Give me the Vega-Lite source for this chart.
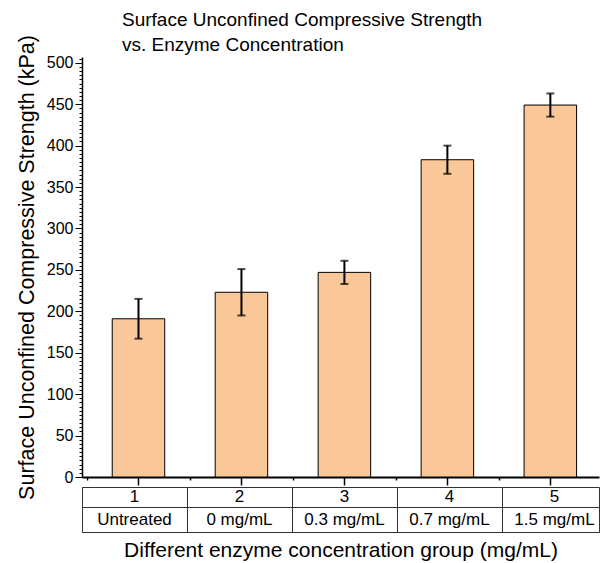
{
  "$schema": "https://vega.github.io/schema/vega-lite/v6.json",
  "padding": {"left": 16, "top": 10, "right": 0, "bottom": 0},
  "background": "white",
  "config": {
    "font": "Liberation Sans",
    "axis": {"labelColor": "black", "titleColor": "black", "domainColor": "black", "tickColor": "black", "titleFontWeight": "normal", "labelFont": "Liberation Sans", "titleFont": "Liberation Sans", "grid": false},
    "title": {"font": "Liberation Sans", "color": "black"}
  },
  "data": {"values": [
    {"group": 1, "label": "Untreated", "value": 191, "err": 24},
    {"group": 2, "label": "0 mg/mL", "value": 223, "err": 28},
    {"group": 3, "label": "0.3 mg/mL", "value": 247, "err": 14},
    {"group": 4, "label": "0.7 mg/mL", "value": 383, "err": 17},
    {"group": 5, "label": "1.5 mg/mL", "value": 449, "err": 14}
  ]},
  "spacing": 10,
  "bounds": "flush",
  "vconcat": [
    {
      "width": 517,
      "height": 420,
      "title": {"text": ["Surface Unconfined Compressive Strength", "vs. Enzyme Concentration"], "anchor": "start", "frame": "group", "dx": 40, "fontSize": 19, "fontWeight": "normal", "lineHeight": 25, "offset": -20},
      "view": {"stroke": null},
      "layer": [
        {
          "mark": {"type": "bar", "width": 52.5, "fill": "#FAC898", "stroke": "black", "strokeWidth": 1},
          "encoding": {
            "x": {"field": "group", "type": "quantitative", "scale": {"domain": [0.5, 5.424], "nice": false, "zero": false},
              "axis": {"values": [0.5, 1, 1.5, 2, 2.5, 3, 3.5, 4, 4.5, 5], "labels": false, "title": null, "tickSize": {"condition": {"test": "datum.value % 1 === 0", "value": 8}, "value": 3}, "domainWidth": 2, "tickWidth": 1.5}},
            "y": {"field": "value", "type": "quantitative", "scale": {"domain": [0, 507], "nice": false},
              "axis": {"title": "Surface Unconfined Compressive Strength (kPa)", "titleFontSize": 21.5, "titlePadding": 8, "labelFontSize": 16, "tickCount": 100, "labelExpr": "datum.value % 50 === 0 ? datum.label : ''", "labelOverlap": false, "tickSize": {"condition": {"test": "datum.value % 50 === 0", "value": 7}, "value": 3}, "tickWidth": 1, "domainWidth": 1.5, "labelPadding": 2}}
          }
        },
        {
          "mark": {"type": "errorbar", "ticks": {"size": 8, "thickness": 2}, "thickness": 2, "color": "black"},
          "encoding": {
            "x": {"field": "group", "type": "quantitative"},
            "y": {"field": "value", "type": "quantitative", "title": "Surface Unconfined Compressive Strength (kPa)"},
            "yError": {"field": "err"}
          }
        }
      ]
    },
    {
      "spacing": 0,
      "bounds": "flush",
      "vconcat": [
        {
          "width": 517,
          "height": 20,
          "view": {"stroke": "#333", "strokeWidth": 1},
          "mark": {"type": "text", "fontSize": 17, "color": "black"},
          "encoding": {
            "x": {"field": "group", "type": "quantitative", "scale": {"domain": [0.5, 5.424], "nice": false, "zero": false},
              "axis": {"values": [0.5, 1.5, 2.5, 3.5, 4.5], "grid": true, "gridColor": "#333", "gridOpacity": 1, "ticks": false, "labels": false, "domain": false, "title": null}},
            "text": {"field": "group", "type": "nominal"}
          }
        },
        {
          "width": 517,
          "height": 25,
          "view": {"stroke": "#333", "strokeWidth": 1},
          "mark": {"type": "text", "fontSize": 17, "color": "black"},
          "encoding": {
            "x": {"field": "group", "type": "quantitative", "scale": {"domain": [0.5, 5.424], "nice": false, "zero": false},
              "axis": {"values": [0.5, 1.5, 2.5, 3.5, 4.5], "grid": true, "gridColor": "#333", "gridOpacity": 1, "ticks": false, "labels": false, "domain": false, "title": "Different enzyme concentration group (mg/mL)", "titleFontSize": 21, "titlePadding": 7}},
            "text": {"field": "label", "type": "nominal"}
          }
        }
      ]
    }
  ]
}
